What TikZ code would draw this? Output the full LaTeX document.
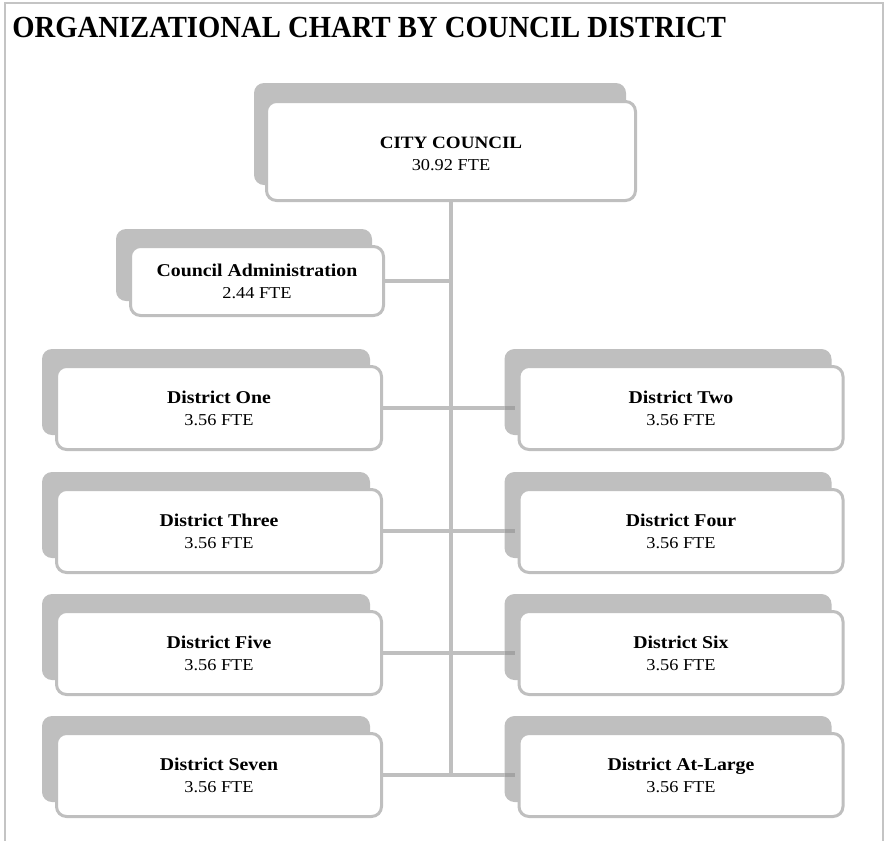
\documentclass[tikz,border=0pt]{standalone}
\usepackage{fontspec}
\setmainfont{Liberation Serif}
\newfontfamily\boxfont{Liberation Serif}[FakeStretch=1.1]
\newfontfamily\titlefont{Liberation Serif}[FakeStretch=0.935]
\definecolor{linegray}{HTML}{BFBFBF}
\definecolor{overgray}{HTML}{A3A3A3}
\definecolor{framegray}{HTML}{C4C4C4}
\tikzset{
  boxshadow/.style={fill=linegray, rounded corners=7.5pt, inner sep=0pt, outer sep=0pt},
  orgbox/.style={fill=white, draw=linegray, line width=2.25pt, rounded corners=7.5pt, inner sep=0pt, outer sep=0pt},
  unittitle/.style={anchor=base, inner sep=0pt, font=\boxfont\bfseries\fontsize{13.5}{15}\selectfont},
  unitfte/.style={anchor=base, inner sep=0pt, font=\boxfont\fontsize{12.5}{14}\selectfont},
  conn/.style={draw=linegray, line width=3pt},
  connover/.style={draw=overgray, line width=3pt},
  framepath/.style={draw=framegray, line width=1.5pt}
}
% name, cx, cy, w, h, title, fte
\newcommand\orgunit[7]{%
  \node[boxshadow, minimum width=#4*0.75pt, minimum height=#5*0.75pt] (#1s) at (#2-13,#3-16) {};
  \node[orgbox, minimum width=(#4-3)*0.75pt, minimum height=(#5-3)*0.75pt] (#1) at (#2,#3) {};
  \node[unittitle] (#1t) at (#2,#3-5) {#6};
  \node[unitfte] (#1f) at (#2,#3+17) {#7};
}
\begin{document}
\begin{tikzpicture}[x=0.75pt, y=-0.75pt]
\useasboundingbox (0,0) rectangle (888,840);
\draw[framepath] (5,841) -- (5,3) -- (883,3) -- (883,841);
\node[anchor=base west, inner sep=0pt, font=\titlefont\bfseries\fontsize{23}{28}\selectfont] (title) at (12,37) {ORGANIZATIONAL CHART BY COUNCIL DISTRICT};

% City council
\node[boxshadow, minimum width=372*0.75pt, minimum height=102*0.75pt] (ccs) at (451-11,151-17) {};
\node[orgbox, minimum width=369*0.75pt, minimum height=99*0.75pt] (cc) at (451,151) {};
\node[anchor=base, inner sep=0pt, font=\boxfont\bfseries\fontsize{13}{15}\selectfont] (cct) at (451,148) {CITY COUNCIL};
\node[unitfte] (ccf) at (451,170) {30.92 FTE};

\orgunit{adm}{257}{281}{256}{72}{Council Administration}{2.44 FTE}
\orgunit{d1}{219}{408}{328}{86}{District One}{3.56 FTE}
\orgunit{d2}{681}{408}{327}{86}{District Two}{3.56 FTE}
\orgunit{d3}{219}{531}{328}{86}{District Three}{3.56 FTE}
\orgunit{d4}{681}{531}{327}{86}{District Four}{3.56 FTE}
\orgunit{d5}{219}{653}{328}{86}{District Five}{3.56 FTE}
\orgunit{d6}{681}{653}{327}{86}{District Six}{3.56 FTE}
\orgunit{d7}{219}{775}{328}{86}{District Seven}{3.56 FTE}
\orgunit{d8}{681}{775}{327}{86}{District At-Large}{3.56 FTE}

% connectors
\coordinate (vbot) at (cc.south |- d7.east);
\draw[conn] (cc.south) -- (vbot);
\draw[conn] (adm.east) -- (cc.south |- adm.east);
\foreach \l/\r in {d1/d2, d3/d4, d5/d6, d7/d8}{
  \draw[conn] (\l.east) -- (\r s.west |- \r.west);
  \draw[connover] (\r s.west |- \r.west) -- ([xshift=-3pt]\r.west);
}
\end{tikzpicture}
\end{document}
